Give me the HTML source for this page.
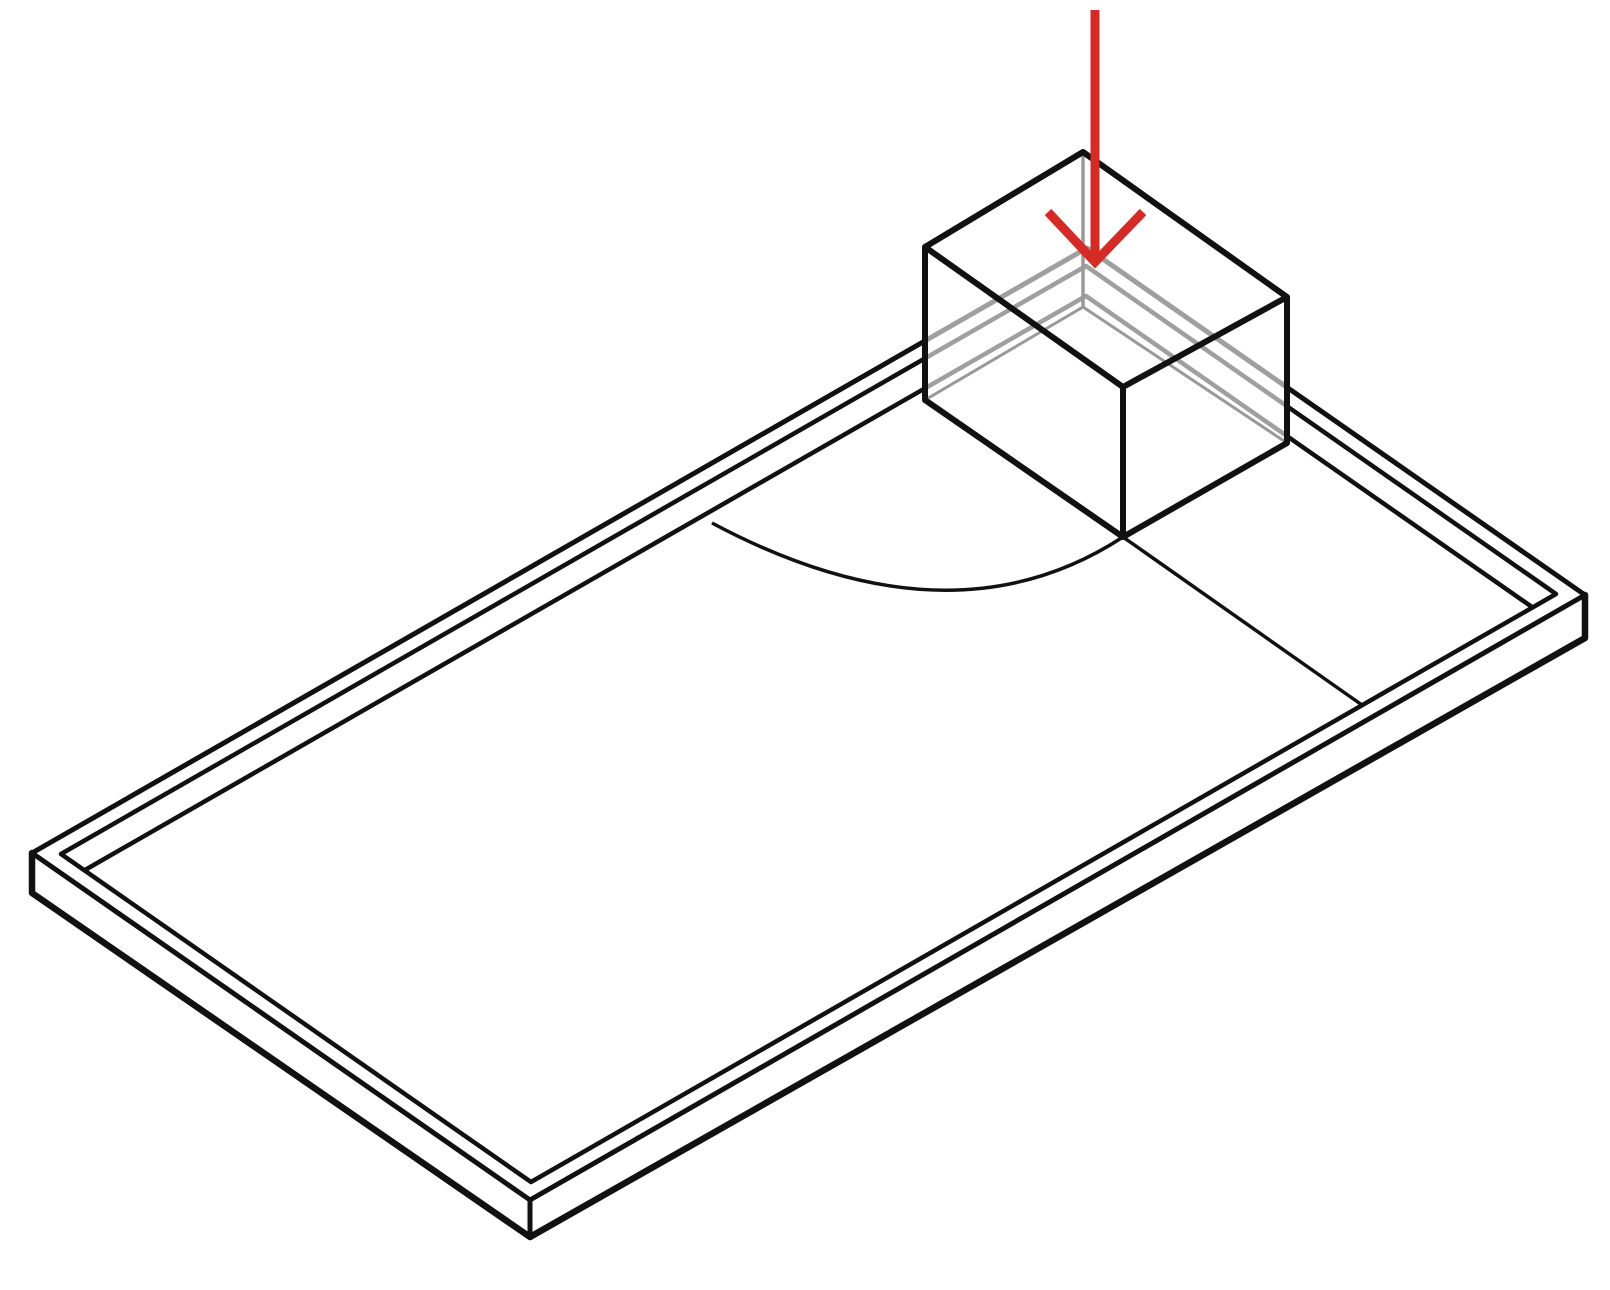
<!DOCTYPE html>
<html><head><meta charset="utf-8"><style>html,body{margin:0;padding:0;background:#fff}svg{display:block}</style></head>
<body>
<svg width="1610" height="1290" viewBox="0 0 1610 1290" xmlns="http://www.w3.org/2000/svg">
<g fill="none" stroke="#111" stroke-linejoin="round" stroke-linecap="round">
  <polygon points="1087,248 32,853 530,1200 1585,595" stroke-width="5"/>
  <polygon points="1086,266 61,854 531,1182 1556,594" stroke-width="4.5"/>
  <polyline points="85,870 1086,296 1532,607" stroke-width="4.5"/>
  <polyline points="32,853 32,893 530,1237 1585,638 1585,595" stroke-width="6.5"/>
  <line x1="530" y1="1200" x2="530" y2="1237" stroke-width="5"/>
</g>
<g fill="none" stroke="#111" stroke-width="3.5">
  <path d="M712,523 Q950,650 1123,537"/>
  <line x1="1123" y1="537" x2="1362" y2="705"/>
</g>
<g>
  <polygon points="925,247 1083,152 1287,297 1287,443 1123,537 925,400" fill="#fff" fill-opacity="0.6" stroke="none"/>
  <line x1="1083" y1="152" x2="1083" y2="307" stroke="#999" stroke-width="3.5"/>
  <polyline points="925,400 1083,307 1287,443" fill="none" stroke="#999" stroke-width="3"/>
  <g fill="none" stroke="#111" stroke-width="6" stroke-linejoin="round">
    <polygon points="1083,152 925,247 1123,387 1287,297"/>
    <polyline points="925,247 925,400 1123,537 1287,443 1287,297"/>
    <line x1="1123" y1="387" x2="1123" y2="537"/>
  </g>
</g>
<g stroke="#d42b27" stroke-width="9" fill="none">
  <line x1="1095" y1="10" x2="1095" y2="262"/>
  <polyline points="1048,212 1095,262 1143,212"/>
</g>
</svg>
</body></html>
